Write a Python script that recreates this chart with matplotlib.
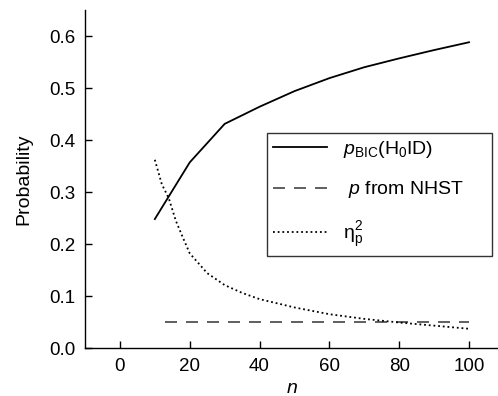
#!/usr/bin/env python3

import matplotlib
matplotlib.use("Agg")
import matplotlib.pyplot as plt

plt.rcParams["font.family"] = ["Liberation Sans", "DejaVu Sans"]
plt.rcParams["mathtext.fontset"] = "custom"
plt.rcParams["mathtext.rm"] = "Liberation Sans"
plt.rcParams["mathtext.it"] = "Liberation Sans:italic"
plt.rcParams["mathtext.bf"] = "Liberation Sans:bold"

# p_BIC(H0|D)
n_bic = [10, 20, 30, 40, 50, 60, 70, 80, 90, 100]
p_bic = [0.248, 0.357, 0.431, 0.464, 0.494, 0.519, 0.540, 0.557, 0.573, 0.588]

# p from NHST
n_nhst = [13, 20, 30, 40, 50, 60, 70, 80, 90, 100]
p_nhst = [0.05, 0.05, 0.05, 0.05, 0.05, 0.05, 0.05, 0.05, 0.05, 0.05]

# partial eta squared
n_eta = [10, 12, 14, 16, 18, 20, 25, 30, 35, 40, 50, 60, 70, 80, 90, 100]
eta_p2 = [0.362, 0.315, 0.288, 0.245, 0.213, 0.182, 0.144, 0.121, 0.106,
          0.094, 0.078, 0.065, 0.056, 0.049, 0.043, 0.037]

x_ticks = [0, 20, 40, 60, 80, 100]
y_ticks = [0.0, 0.1, 0.2, 0.3, 0.4, 0.5, 0.6]

fig = plt.figure(figsize=(4.98, 3.96), dpi=100)
ax = fig.add_axes([0.1707, 0.1212, 0.8293, 0.8535])

ax.plot(n_bic, p_bic, color="black", linewidth=1.3, linestyle="-",
        label=r"$p_{\mathrm{BIC}}(\mathrm{H}_0\mathrm{I}\mathrm{D})$")
lw_dash = 1.2
ax.plot(n_nhst, p_nhst, color="#444444", linewidth=lw_dash,
        dashes=(12 * 0.72 / lw_dash, 9 * 0.72 / lw_dash),
        label=r" $p$ from NHST")
ax.plot(n_eta, eta_p2, color="black", linewidth=1.3,
        linestyle=(0, (1, 1.6)),
        label=r"η$^{2}_{\mathrm{p}}$")

ax.set_xlim(-10, 108.3)
ax.set_ylim(0, 0.65)
ax.set_xticks(x_ticks)
ax.set_yticks(y_ticks)
ax.set_yticklabels(["%.1f" % v for v in y_ticks])

for side in ["top", "right"]:
    ax.spines[side].set_visible(False)
for side in ["left", "bottom"]:
    ax.spines[side].set_linewidth(1.0)
ax.tick_params(direction="in", length=5, width=1.0, labelsize=13.5, pad=7)

ax.set_xlabel(r"$n$", fontsize=14, labelpad=4)
ax.set_ylabel("Probability", fontsize=14, labelpad=12)

leg = ax.legend(
    loc="upper left",
    bbox_to_anchor=(0.536, 0.359, 0.452, 0.305),
    bbox_transform=fig.transFigure,
    mode="expand",
    fontsize=14,
    handlelength=2.8,
    handletextpad=0.8,
    labelspacing=1.0,
    borderpad=0.3,
    borderaxespad=0,
    fancybox=False,
    frameon=True,
)
leg.get_frame().set_edgecolor("black")
leg.get_frame().set_linewidth(1.0)

fig.savefig("out.png", dpi=100)
